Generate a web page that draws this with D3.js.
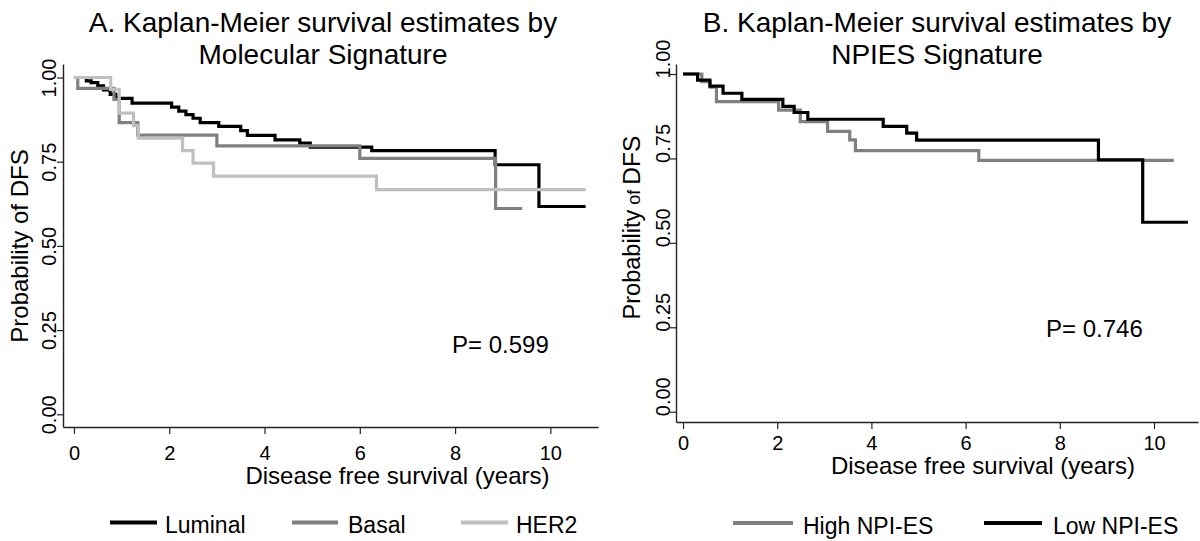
<!DOCTYPE html>
<html>
<head>
<meta charset="utf-8">
<script src="https://cdn.jsdelivr.net/npm/d3@7"></script>
<style>
  body { margin: 0; background: #fff; }
  svg { display: block; font-family: "Liberation Sans", Arial, Helvetica, sans-serif; }
</style>
</head>
<body>
<svg id="chart" width="1200" height="541"></svg>
<script>
// Axis ticks
const timeTicks = [0, 2, 4, 6, 8, 10];
const probTicks = [0, 0.25, 0.5, 0.75, 1];

// Panel A: DFS by molecular signature (event times in years, survival after each event)
const molGroups = ["Luminal", "Basal", "HER2"];
const luminalTimes = [0, 0.26, 0.36, 0.5, 0.62, 0.76, 0.88, 1.22, 2.05, 2.2, 2.35, 2.5, 2.65, 3.04, 3.5, 3.64, 4.22, 4.74, 4.96, 6.25, 8.84, 9.76];
const luminalSurv  = [1, 0.99, 0.985, 0.975, 0.963, 0.95, 0.938, 0.924, 0.912, 0.9, 0.89, 0.879, 0.866, 0.855, 0.842, 0.828, 0.815, 0.805, 0.793, 0.783, 0.741, 0.617];
const luminalEnd = 10.74;
const basalTimes = [0, 0.08, 0.84, 0.95, 1.34, 3.0, 6.0, 8.85];
const basalSurv  = [1, 0.968, 0.935, 0.866, 0.829, 0.797, 0.76, 0.611];
const basalEnd = 9.41;
const her2Times = [0, 0.77, 0.95, 1.25, 1.35, 2.28, 2.5, 2.93, 6.35];
const her2Surv  = [1, 0.965, 0.894, 0.857, 0.82, 0.783, 0.746, 0.707, 0.667];
const her2End = 10.74;

// Panel B: DFS by NPI-ES signature
const npiGroups = ["High NPI-ES", "Low NPI-ES"];
const highTimes = [0, 0.4, 0.58, 0.71, 2.03, 2.49, 3.07, 3.54, 3.66, 6.28];
const highSurv  = [1, 0.977, 0.961, 0.918, 0.893, 0.859, 0.83, 0.805, 0.773, 0.744];
const highEnd = 10.42;
const lowTimes = [0, 0.31, 0.57, 0.85, 1.25, 2.12, 2.36, 2.65, 4.25, 4.75, 4.96, 8.82, 9.76];
const lowSurv  = [1, 0.982, 0.964, 0.943, 0.925, 0.904, 0.886, 0.866, 0.845, 0.825, 0.804, 0.746, 0.561];
const lowEnd = 10.72;

const pValues = ["0.599", "0.746"];

const svg = d3.select("#chart");
const AXIS_COLOR = "#222";

const panels = [
  {
    title: ["A. Kaplan-Meier survival estimates by", "Molecular Signature"],
    titleX: 323,
    xDom: [-0.23, 11.0], xRange: [63, 598],
    yDom: [-0.0377, 1.0401], yRange: [427, 64],
    series: [
      { name: molGroups[0], t: luminalTimes, s: luminalSurv, end: luminalEnd, color: "#000000" },
      { name: molGroups[1], t: basalTimes, s: basalSurv, end: basalEnd, color: "#808080" },
      { name: molGroups[2], t: her2Times, s: her2Surv, end: her2End, color: "#c0c0c0" }
    ],
    legend: [[110, 157, 165], [292, 338, 348], [461, 508, 516]],
    legendY: 522.5, legendTextY: 533,
    xLabelDy: 33, yLabelMode: "middle", yLabelDx: -7,
    xTitle: [397.5, 484],
    yTitle: { x: 28, y: 246, parts: [["Probability of DFS", 24]] },
    p: [452, 353, pValues[0]]
  },
  {
    title: ["B. Kaplan-Meier survival estimates by", "NPIES Signature"],
    titleX: 937,
    xDom: [-0.149, 10.934], xRange: [676, 1198],
    yDom: [-0.0305, 1.0296], yRange: [422, 64],
    series: [
      { name: npiGroups[0], t: highTimes, s: highSurv, end: highEnd, color: "#808080" },
      { name: npiGroups[1], t: lowTimes, s: lowSurv, end: lowEnd, color: "#000000" }
    ],
    legend: [[733, 793, 803], [984, 1042, 1053]],
    legendY: 523, legendTextY: 533.5,
    xLabelDy: 28, yLabelMode: "start", yLabelDx: -6,
    xTitle: [983, 474],
    yTitle: { x: 640, y: 227.5, parts: [["Probability", 23.5], [" of ", 18], ["DFS", 24.5]] },
    p: [1046, 337, pValues[1]]
  }
];

panels.forEach(cfg => {
  const g = svg.append("g");
  const x = d3.scaleLinear().domain(cfg.xDom).range(cfg.xRange);
  const y = d3.scaleLinear().domain(cfg.yDom).range(cfg.yRange);
  const x0 = cfg.xRange[0], yBottom = cfg.yRange[0];

  // Title (two lines)
  cfg.title.forEach((line, i) => {
    g.append("text")
      .attr("x", cfg.titleX).attr("y", 32 + i * 32)
      .attr("text-anchor", "middle")
      .attr("font-size", 28)
      .attr("fill", "#000")
      .text(line);
  });

  // x axis
  const xAxis = g.append("g")
    .attr("transform", `translate(0,${yBottom})`)
    .call(d3.axisBottom(x).tickValues(timeTicks).tickSize(7).tickSizeOuter(0).tickFormat(d3.format("d")));
  xAxis.select(".domain").attr("stroke", AXIS_COLOR).attr("stroke-width", 1.4);
  xAxis.selectAll(".tick line").attr("stroke", AXIS_COLOR).attr("stroke-width", 1.2);
  xAxis.selectAll(".tick text")
    .attr("y", cfg.xLabelDy).attr("dy", null)
    .attr("font-size", 20).attr("font-family", null).attr("fill", "#000");

  // y axis
  const yAxis = g.append("g")
    .attr("transform", `translate(${x0},0)`)
    .call(d3.axisLeft(y).tickValues(probTicks).tickSize(6).tickSizeOuter(0).tickFormat(d3.format(".2f")));
  yAxis.select(".domain").attr("stroke", AXIS_COLOR).attr("stroke-width", 1.4);
  yAxis.selectAll(".tick line").attr("stroke", AXIS_COLOR).attr("stroke-width", 1.2);
  yAxis.selectAll(".tick text")
    .attr("x", null).attr("dy", null)
    .attr("font-size", 20).attr("font-family", null).attr("fill", "#000")
    .attr("text-anchor", cfg.yLabelMode)
    .attr("transform", cfg.yLabelMode === "middle"
      ? `translate(${cfg.yLabelDx},0) rotate(-90)`
      : `translate(${cfg.yLabelDx},4) rotate(-90)`);

  // Axis titles
  g.append("text")
    .attr("x", cfg.xTitle[0]).attr("y", cfg.xTitle[1])
    .attr("text-anchor", "middle")
    .attr("font-size", 24).attr("fill", "#000")
    .text("Disease free survival (years)");

  const yt = g.append("text")
    .attr("transform", `translate(${cfg.yTitle.x},${cfg.yTitle.y}) rotate(-90)`)
    .attr("text-anchor", "middle")
    .attr("fill", "#000")
    .style("white-space", "pre");
  cfg.yTitle.parts.forEach(([txt, size]) => {
    yt.append("tspan").attr("font-size", size).text(txt);
  });

  // Kaplan-Meier step curves
  const line = d3.line()
    .x(d => x(d[0]))
    .y(d => y(d[1]))
    .curve(d3.curveStepAfter);
  cfg.series.forEach(sr => {
    const pts = sr.t.map((t, i) => [t, sr.s[i]]);
    pts.push([sr.end, sr.s[sr.s.length - 1]]);
    g.append("path")
      .datum(pts)
      .attr("d", line)
      .attr("fill", "none")
      .attr("stroke", sr.color)
      .attr("stroke-width", 3.2)
      .attr("stroke-linejoin", "miter");
  });

  // Log-rank p-value
  g.append("text")
    .attr("x", cfg.p[0]).attr("y", cfg.p[1])
    .attr("font-size", 24).attr("fill", "#000")
    .text("P= " + cfg.p[2]);

  // Legend
  cfg.series.forEach((sr, i) => {
    const [lx1, lx2, tx] = cfg.legend[i];
    g.append("line")
      .attr("x1", lx1).attr("x2", lx2)
      .attr("y1", cfg.legendY).attr("y2", cfg.legendY)
      .attr("stroke", sr.color).attr("stroke-width", 4);
    g.append("text")
      .attr("x", tx).attr("y", cfg.legendTextY)
      .attr("font-size", 23).attr("fill", "#000")
      .text(sr.name);
  });
});
</script>
</body>
</html>
